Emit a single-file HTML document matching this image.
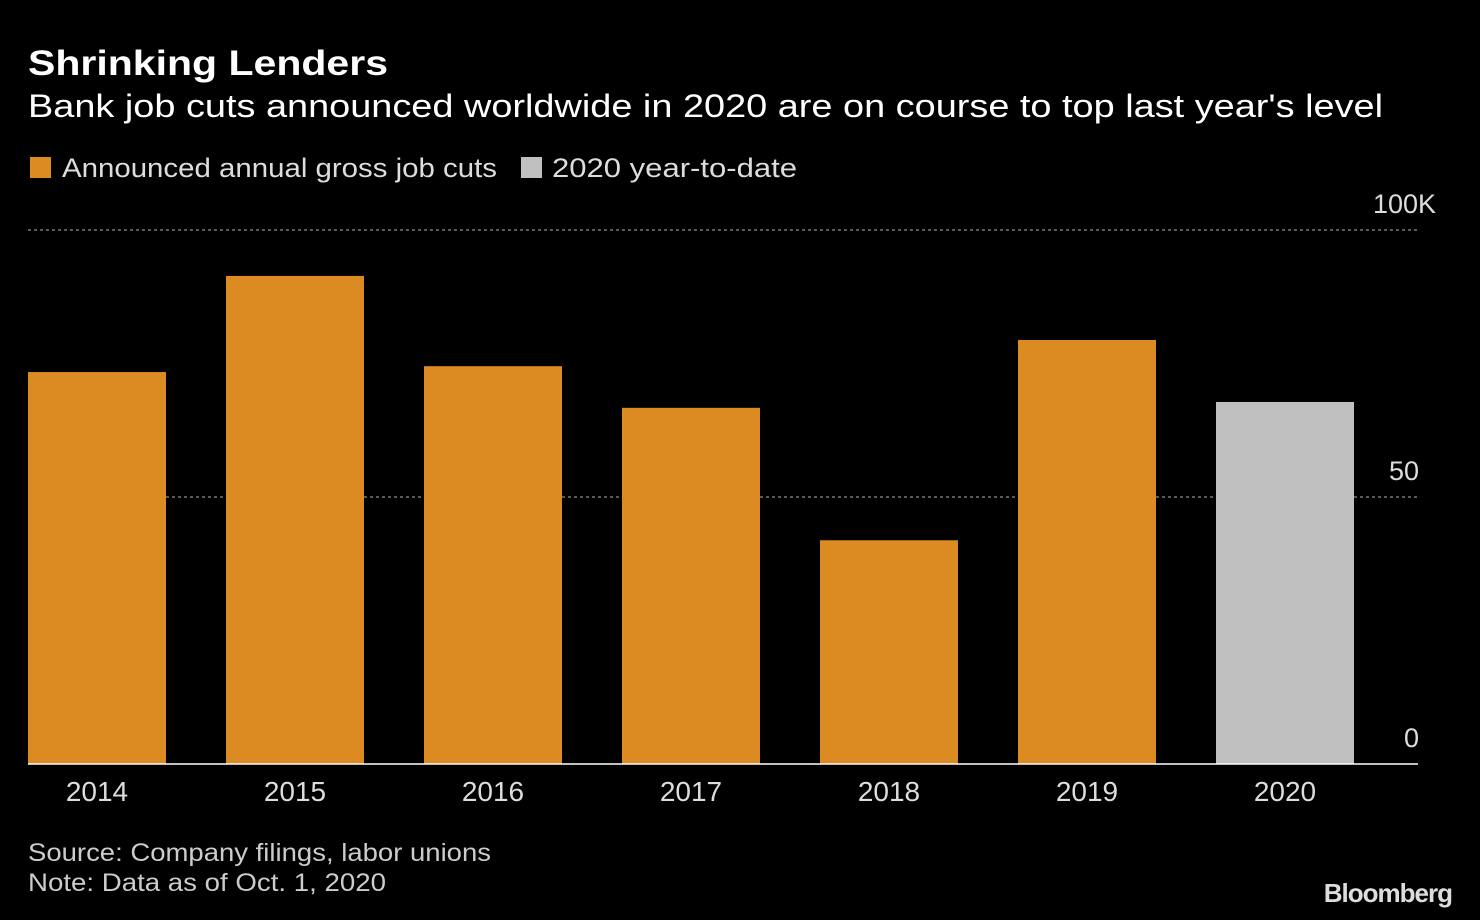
<!DOCTYPE html>
<html><head><meta charset="utf-8"><style>
body{margin:0;background:#000;width:1480px;height:920px;overflow:hidden;font-family:"Liberation Sans",sans-serif;color:#fff}
svg{display:block}
</style></head><body>
<svg width="1480" height="920">
<text x="28" y="75" font-size="35" font-weight="bold" fill="#fff" textLength="360" lengthAdjust="spacingAndGlyphs">Shrinking Lenders</text>
<text x="28" y="117" font-size="32" fill="#fff" textLength="1355" lengthAdjust="spacingAndGlyphs">Bank job cuts announced worldwide in 2020 are on course to top last year's level</text>
<rect x="30" y="157" width="21" height="21" fill="#dc8a22"/>
<text x="62" y="177" font-size="27" fill="#ddd" textLength="435" lengthAdjust="spacingAndGlyphs">Announced annual gross job cuts</text>
<rect x="521" y="157" width="21" height="21" fill="#c0c0c0"/>
<text x="552" y="177" font-size="27" fill="#ddd" textLength="245" lengthAdjust="spacingAndGlyphs">2020 year-to-date</text>
<g id="grid"></g>
<g id="bars"></g>
<line x1="28" x2="1418" y1="764" y2="764" stroke="#fff" stroke-width="1.5"/>
<g id="xlabels"></g>
<text x="28" y="861" font-size="25" fill="#ccc" textLength="463" lengthAdjust="spacingAndGlyphs">Source: Company filings, labor unions</text>
<text x="28" y="891" font-size="25" fill="#ccc" textLength="358" lengthAdjust="spacingAndGlyphs">Note: Data as of Oct. 1, 2020</text>
<text x="1452" y="902" font-size="26" font-weight="bold" fill="#ddd" text-anchor="end" letter-spacing="-1">Bloomberg</text>
</svg>
<script>
const categories=["2014","2015","2016","2017","2018","2019","2020"];
const values=[73.4,91.4,74.5,66.7,41.9,79.4,67.8];
const ytdFlags=[false,false,false,false,false,false,true];
const tickValues=[0,50,100];
const tickLabels=["0","50","100K"];
const NS="http://www.w3.org/2000/svg";
const y0=764,yTop=230,maxV=100;
function yScale(v){return y0-(v/maxV)*(y0-yTop);}
const step=198,bw=138,x0=28;
function xScale(i){return x0+i*step;}
const grid=document.getElementById('grid'),bars=document.getElementById('bars'),xl=document.getElementById('xlabels');
tickValues.forEach((t,i)=>{
  const y=yScale(t);
  if(t>0){
    const l=document.createElementNS(NS,'line');
    l.setAttribute('x1',28);l.setAttribute('x2',1418);l.setAttribute('y1',y);l.setAttribute('y2',y);
    l.setAttribute('stroke','#777');l.setAttribute('stroke-dasharray','3,3');l.setAttribute('stroke-width','1.5');
    
    
    grid.appendChild(l);
  }
  const tx=document.createElementNS(NS,'text');
  const isTop=(i===tickValues.length-1);
  tx.setAttribute('x',isTop?1436:1419);tx.setAttribute('y',y-17);tx.setAttribute('text-anchor','end');
  tx.setAttribute('font-size','27');tx.setAttribute('fill','#ddd');tx.textContent=tickLabels[i];
  
  
  grid.appendChild(tx);
});
categories.forEach((c,i)=>{
  const r=document.createElementNS(NS,'rect');
  const y=yScale(values[i]);
  r.setAttribute('x',xScale(i));r.setAttribute('y',y);r.setAttribute('width',bw);r.setAttribute('height',y0-y);
  r.setAttribute('fill',ytdFlags[i]?'#c0c0c0':'#dc8a22');
  
  
  bars.appendChild(r);
  const t=document.createElementNS(NS,'text');
  t.setAttribute('x',xScale(i)+bw/2);t.setAttribute('y',801);t.setAttribute('text-anchor','middle');
  t.setAttribute('font-size','28');t.setAttribute('fill','#ddd');t.textContent=c;
  
  
  xl.appendChild(t);
});
</script>
</body></html>
